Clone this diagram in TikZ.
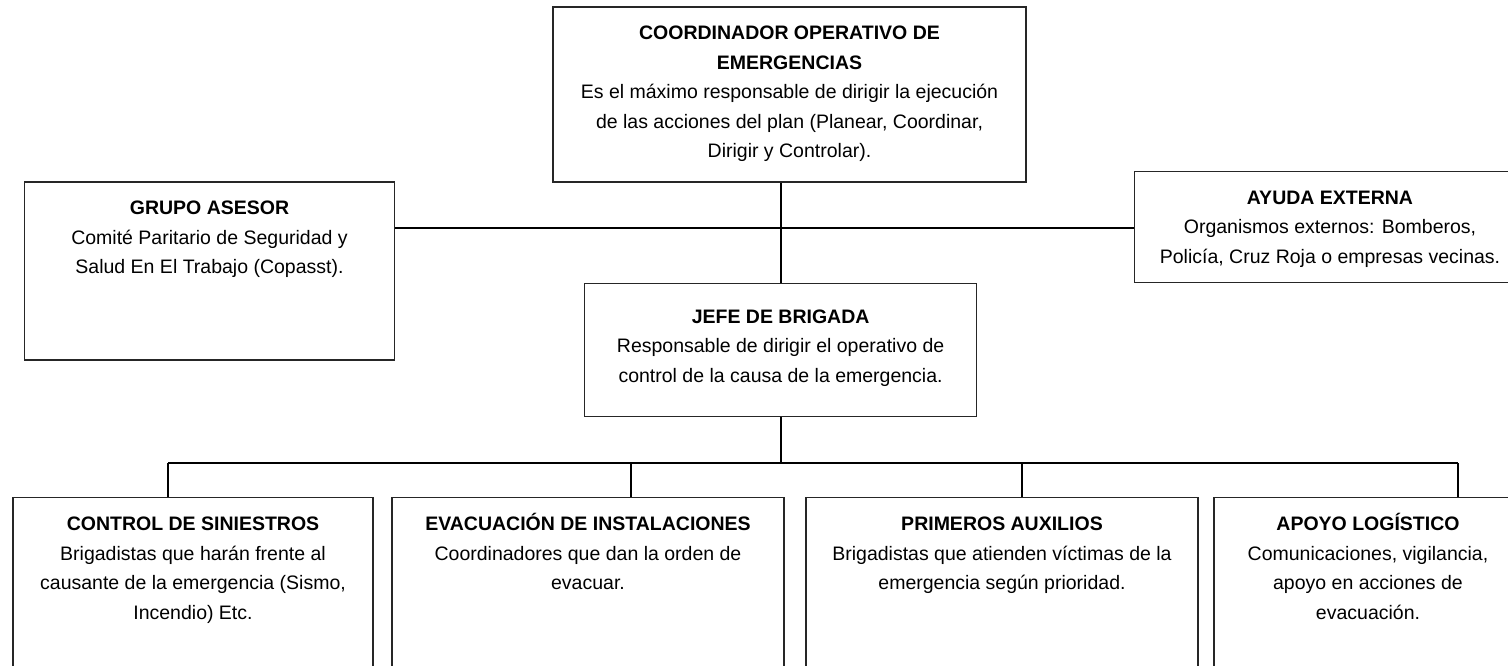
\documentclass[tikz,border=0pt]{standalone}
\usepackage{fontspec}
\setmainfont{Liberation Sans}
\usetikzlibrary{positioning}

\begin{document}
\begin{tikzpicture}[x=1pt,y=-1pt,
  caja/.style={draw=black!85, line width=1.3pt, inner sep=0pt},
  texto/.style={inner sep=0pt, align=center, font=\fontsize{19.5}{29.5}\selectfont},
  linea/.style={line width=1.8pt}]
\useasboundingbox (0,0) rectangle (1508,666);
\clip (0,0) rectangle (1508,666);
% cajas
\node[caja, minimum width=473pt, minimum height=175pt] (coord) at (789.5,94.5) {};
\node[caja, minimum width=370pt, minimum height=178pt] (asesor) at (209.5,271) {};
\node[caja, minimum width=391pt, minimum height=111pt] (ayuda) at (1330,227) {};
\node[caja, minimum width=392pt, minimum height=133pt] (jefe) at (780.6,350) {};
\node[caja, minimum width=360pt, minimum height=190pt] (siniestros) at (193,592.7) {};
\node[caja, minimum width=392pt, minimum height=190pt] (evacuacion) at (588,592.7) {};
\node[caja, minimum width=392pt, minimum height=190pt] (auxilios) at (1002,592.7) {};
\node[caja, minimum width=308pt, minimum height=190pt] (apoyo) at (1368,592.7) {};
% textos
\node[texto, below=12.7pt of coord.north] (coord-t) {\strut\textbf{COORDINADOR OPERATIVO DE}\\\textbf{EMERGENCIAS}\\Es el máximo responsable de dirigir la ejecución\\de las acciones del plan (Planear, Coordinar,\\Dirigir y Controlar).};
\node[texto, below=12.7pt of asesor.north] (asesor-t) {\strut\textbf{GRUPO ASESOR}\\Comité Paritario de Seguridad y\\Salud En El Trabajo (Copasst).};
\node[texto, below=12.7pt of ayuda.north] (ayuda-t) {\strut\textbf{AYUDA EXTERNA}\\Organismos externos: Bomberos,\\Policía, Cruz Roja o empresas vecinas.};
\node[texto, below=19.4pt of jefe.north] (jefe-t) {\strut\textbf{JEFE DE BRIGADA}\\Responsable de dirigir el operativo de\\control de la causa de la emergencia.};
\node[texto, below=12.7pt of siniestros.north] (siniestros-t) {\strut\textbf{CONTROL DE SINIESTROS}\\Brigadistas que harán frente al\\causante de la emergencia (Sismo,\\Incendio) Etc.};
\node[texto, below=12.7pt of evacuacion.north] (evacuacion-t) {\strut\textbf{EVACUACIÓN DE INSTALACIONES}\\Coordinadores que dan la orden de\\evacuar.};
\node[texto, below=12.7pt of auxilios.north] (auxilios-t) {\strut\textbf{PRIMEROS AUXILIOS}\\Brigadistas que atienden víctimas de la\\emergencia según prioridad.};
\node[texto, below=12.7pt of apoyo.north] (apoyo-t) {\strut\textbf{APOYO LOGÍSTICO}\\Comunicaciones, vigilancia,\\apoyo en acciones de\\evacuación.};
% conectores
\coordinate (cruce) at (781,227.7);
\draw[linea] (coord.south -| cruce) -- (jefe.north -| cruce);
\draw[linea] (asesor.east |- cruce) -- (ayuda.west |- cruce);
\foreach \n/\x in {1/168,2/631,3/1022,4/1458}
  \coordinate (b\n) at (\x,463.3);
\draw[linea] (jefe.south) -- (jefe.south |- b1);
\draw[linea] (b1) -- (b4);
\foreach \n/\caja in {1/siniestros,2/evacuacion,3/auxilios,4/apoyo}
  \draw[linea] (b\n) -- (b\n |- \caja.north);
\end{tikzpicture}
\end{document}
